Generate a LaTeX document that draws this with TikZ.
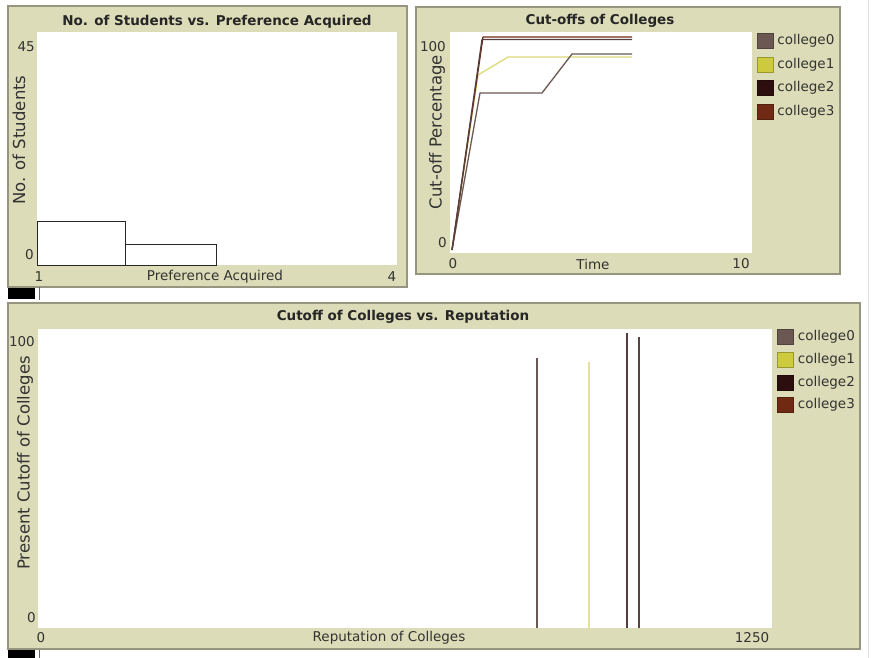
\documentclass[tikz,border=0pt]{standalone}
\usepackage{fontspec}
\setmainfont{DejaVu Sans}
\usetikzlibrary{positioning}

\definecolor{panelbg}{RGB}{220,220,184}
\definecolor{panelrule}{RGB}{150,150,128}
\definecolor{collegeA}{RGB}{107,88,82}
\definecolor{collegeB}{RGB}{206,202,62}
\definecolor{collegeC}{RGB}{45,14,14}
\definecolor{collegeD}{RGB}{112,42,20}

\begin{document}
\begin{tikzpicture}[
        x=1pt, y=-1pt,
        font=\fontsize{13.5}{15}\selectfont,
        panel/.style={fill=panelbg, draw=panelrule, line width=1.5pt},
        plot area/.style={fill=white},
        plot title/.style={inner sep=0pt, font=\fontsize{13.5}{15}\selectfont\bfseries, text=black!85},
        tick label/.style={inner sep=0pt, text=black!80},
        axis label/.style={inner sep=0pt, text=black!80, rotate=90, font=\fontsize{16.5}{18}\selectfont},
        swatch/.style={minimum width=16pt, minimum height=15pt, inner sep=0pt, draw=#1!75!black, fill=#1},
        legend text/.style={inner sep=0pt, anchor=west, text=black!80, font=\fontsize{13.5}{15}\selectfont},
        bar/.style={draw=black!85, line width=1pt},
        pen/.style={line width=1.3pt, line join=round},
    ]

    % page size of the screenshot
    \useasboundingbox (0,0) rectangle (875,658);
    \draw[black!12, line width=1pt] (868,0) -- (868,658);

    % ---- Panel 1 : histogram of preferences
    \draw[panel] (8,6) rectangle (407,287);
    \fill[plot area] (37,32) rectangle (397,265);
    \node[plot title] (title-pref) at (217,22) {No. of Students vs. Preference Acquired};
    \node[tick label, anchor=east] (pref-ymax) at (35,47) {45};
    \node[tick label, anchor=east] (pref-ymin) at (34,255) {0};
    \node[tick label] (pref-xmin) at (39,277) {1};
    \node[tick label] (pref-xmax) at (392,277) {4};
    \node[tick label] (pref-xlabel) at (215,277) {Preference Acquired};
    \node[axis label] (pref-ylabel) at (19,140) {No. of Students};
    % bars
    \draw[bar] (37,265) rectangle (125,221);
    \draw[bar] (125,265) rectangle (216,244);
    % black tab under the panel
    \fill[black] (8,288) rectangle (35,299);
    \draw[black!60] (39,287) -- (39,300);

    % ---- Panel 2 : cut-offs over time
    \draw[panel] (416,7) rectangle (840,274);
    \fill[plot area] (450,32) rectangle (752,253);
    \node[plot title] (title-cut) at (600,21) {Cut-offs of Colleges};
    \node[tick label, anchor=east] (cut-ymax) at (446,47) {100};
    \node[tick label, anchor=east] (cut-ymin) at (447,243) {0};
    \node[tick label] (cut-xmin) at (453,264) {0};
    \node[tick label] (cut-xmax) at (741,264) {10};
    \node[tick label] (cut-xlabel) at (593,264) {Time};
    \node[axis label] (cut-ylabel) at (437,132) {Cut-off Percentage};
    % pens
    \draw[pen, collegeB!70!white] (452,250) -- (478,75) -- (508,57) -- (632,57);
    \draw[pen, collegeA] (452,250) -- (480,93) -- (542,93) -- (572,54) -- (632,54);
    \draw[pen, collegeD] (452,250) -- (483,37) -- (632,37);
    \draw[pen, collegeC!80!white] (452,250) -- (482,39.5) -- (632,39.5);
    % legend
    \foreach \name/\col [count=\i from 0] in {college0/collegeA, college1/collegeB, college2/collegeC, college3/collegeD} {
        \node[swatch=\col] (sw-cut-\i) at (765,41+23.5*\i) {};
        \node[legend text, right=4pt of sw-cut-\i] (lg-cut-\i) {\name};
    }

    % ---- Panel 3 : cut-off vs. reputation
    \draw[panel] (8,303) rectangle (860,649);
    \fill[plot area] (38,329) rectangle (772,628);
    \node[plot title] (title-rep) at (403,317) {Cutoff of Colleges vs. Reputation};
    \node[tick label, anchor=east] (rep-ymax) at (35,342) {100};
    \node[tick label, anchor=east] (rep-ymin) at (36,618) {0};
    \node[tick label] (rep-xmin) at (41,638) {0};
    \node[tick label] (rep-xmax) at (752,638) {1250};
    \node[tick label] (rep-xlabel) at (389,638) {Reputation of Colleges};
    \node[axis label] (rep-ylabel) at (25,463) {Present Cutoff of Colleges};
    % one bar per college
    \draw[pen, collegeA] (537,628) -- (537,358);
    \draw[pen, collegeB!55!white] (589,628) -- (589,362);
    \draw[pen, collegeC!80!white] (627,628) -- (627,333);
    \draw[pen, collegeA!80!black] (639,628) -- (639,337);
    % legend
    \foreach \name/\col [count=\i from 0] in {college0/collegeA, college1/collegeB, college2/collegeC, college3/collegeD} {
        \node[swatch=\col] (sw-rep-\i) at (785.5,337+22.7*\i) {};
        \node[legend text, right=4pt of sw-rep-\i] (lg-rep-\i) {\name};
    }
    % black tab under the panel
    \fill[black] (8,650) rectangle (35,658);
    \draw[black!60] (39,650) -- (39,658);

\end{tikzpicture}
\end{document}
